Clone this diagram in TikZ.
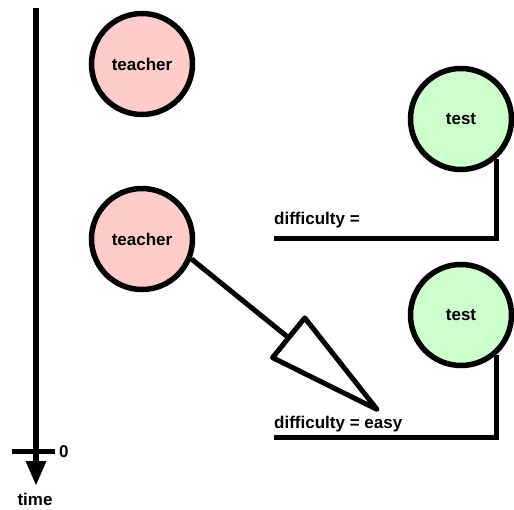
\documentclass[tikz,border=0pt]{standalone}
\usepackage{fontspec}
\setmainfont{Liberation Sans}
\usetikzlibrary{arrows.meta}
\definecolor{pinkfill}{RGB}{255,204,204}
\definecolor{greenfill}{RGB}{204,255,204}
\tikzset{
  teachernode/.style={circle, draw=black, line width=5.5pt, fill=pinkfill, minimum size=101pt, inner sep=0pt, font=\bfseries\fontsize{17}{20}\selectfont},
  testnode/.style={circle, draw=black, line width=5.5pt, fill=greenfill, minimum size=101pt, inner sep=0pt, font=\bfseries\fontsize{17}{20}\selectfont},
  lbl/.style={inner sep=0pt, font=\bfseries\fontsize{17}{20}\selectfont},
  conn/.style={draw=black, line width=5pt},
}
\begin{document}
\begin{tikzpicture}[x=1pt,y=-1pt]
\useasboundingbox (0,0) rectangle (514,509);
% timeline
\coordinate (tltop) at (36,8);
\coordinate (tlend) at (36,486);
\coordinate (tickl) at (12,451);
\coordinate (tickr) at (55,451);
\draw[line width=6pt, -{Triangle[length=25pt,width=19pt]}] (tltop) -- (tlend);
\draw[conn] (tickl) -- (tickr);
\node[lbl, anchor=west] (zero) at (59,452) {0};
\node[lbl] (time) at (35,499) {time};
% nodes
\node[teachernode] (t1) at (142,64) {teacher};
\node[teachernode] (t2) at (142,239) {teacher};
\node[testnode] (s1) at (461,119) {test};
\node[testnode] (s2) at (461,315) {test};
% labels and lines
\node[lbl, anchor=west] (d1) at (274,220) {difficulty =};
\node[lbl, anchor=west] (d2) at (274,424) {difficulty = easy};
\coordinate (l1a) at (274,238);
\coordinate (l2a) at (274,437);
\draw[conn, line join=miter] (l1a) -| (s1.-48);
\draw[conn, line join=miter] (l2a) -| (s2.-48);
% generalisation arrow
\coordinate (tip) at (379,411);
\draw[conn, line join=round, -{Triangle[open, length=128pt, width=56pt, round]}] (t2.-22) -- (tip);
\end{tikzpicture}
\end{document}
